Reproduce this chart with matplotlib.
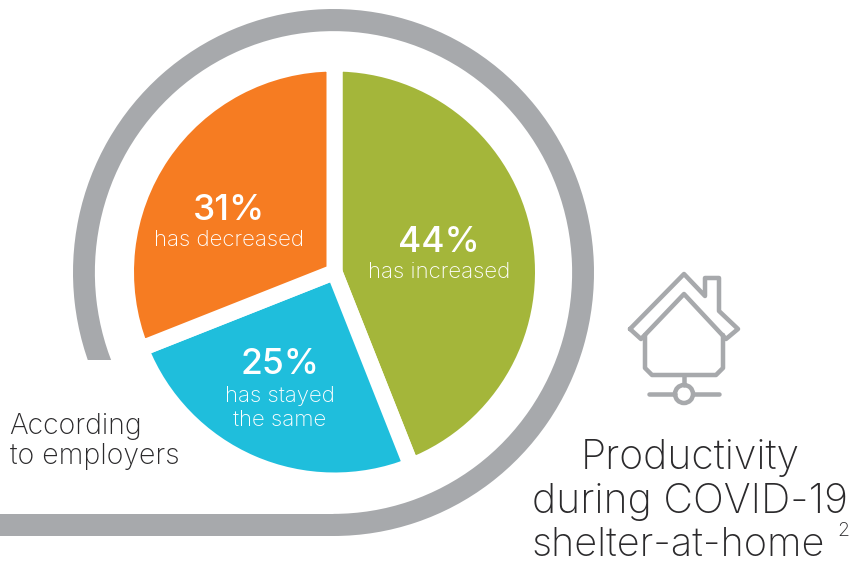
import matplotlib
matplotlib.use("Agg")
import matplotlib.pyplot as plt
from matplotlib.patches import Wedge, Rectangle, Polygon, Circle
from matplotlib.transforms import Affine2D

W, H = 850, 562
GRAY = "#A7A9AC"
DARK = "#2B2A2C"

labels = ["has increased", "has stayed\nthe same", "has decreased"]
values = [44, 25, 31]
colors = ["#A4B63A", "#1FBEDC", "#F67C22"]
label_pos = [(439, 243, [272]), (280, 364, [396, 420]), (229, 211, [240])]


def px(v):
    # pixel widths to points at 100 dpi
    return v * 0.72


def y_(y):
    return H - y


plt.rcParams["font.family"] = ["Inter", "DejaVu Sans"]

fig = plt.figure(figsize=(W / 100, H / 100), dpi=100)
ax = fig.add_axes([0, 0, 1, 1])

cx, cy = 334.5, 272

# outer band: open arc on the left, straight run along the bottom
band = Wedge((0, 0), 1, -90, 205, width=22 / 262, color=GRAY, lw=0)
ax.add_patch(band)
band.set_transform(Affine2D().scale(260.5, 263.5).translate(333.5, y_(272.5)) + ax.transData)
keep = Polygon([(0, y_(360)), (250, y_(360)), (250, 0), (W, 0), (W, H), (0, H)],
               transform=ax.transData, fill=False, lw=0)
band.set_clip_path(keep)
ax.add_patch(Rectangle((0, y_(536)), 334, 22, color=GRAY, lw=0))

# the white edges make the gaps between slices
ax.pie(values, colors=colors, startangle=90, counterclock=False, center=(cx, y_(cy)),
       radius=208.5, wedgeprops=dict(edgecolor="white", linewidth=px(16)))

ax.set_xlim(0, W)
ax.set_ylim(0, H)
ax.set_aspect("auto")
ax.axis("off")

for v, lab, (x, y1, ys) in zip(values, labels, label_pos):
    ax.text(x, y_(y1), f"{v}%", color="white", fontsize=25.5, fontweight="medium",
            ha="center", va="center")
    for line, y in zip(lab.split("\n"), ys):
        ax.text(x, y_(y), line, color="white", fontsize=16, fontweight="light",
                ha="center", va="center")

ax.text(9, y_(427), "According", color=DARK, fontsize=20.5, fontweight="light", ha="left", va="center")
ax.text(10, y_(457), "to employers", color=DARK, fontsize=20.5, fontweight="light", ha="left", va="center")

ax.text(690, y_(458), "Productivity", color=DARK, fontsize=29.5, fontweight="light", ha="center", va="center")
ax.text(690, y_(502), "during COVID-19", color=DARK, fontsize=29.5, fontweight="light", ha="center", va="center")
ax.text(678, y_(545), "shelter-at-home", color=DARK, fontsize=28.5, fontweight="light", ha="center", va="center")
ax.text(837, y_(531), "2", color=DARK, fontsize=14, fontweight="light", ha="left", va="center")

# house icon
icon = dict(color=GRAY, lw=px(4.5), solid_capstyle="round", solid_joinstyle="round")
roof = [(630, 329), (684, 274), (705, 296), (705, 278), (719, 278), (719, 311), (738, 329),
        (726, 339), (684, 294), (641, 339), (630, 329)]
ax.plot([p[0] for p in roof], [y_(p[1]) for p in roof], **icon)
body = [(645, 335), (645, 368), (652, 375), (716, 375), (723, 368), (723, 335)]
ax.plot([p[0] for p in body], [y_(p[1]) for p in body], **icon)
ax.plot([684, 684], [y_(376), y_(385)], **icon)
ax.plot([649, 675], [y_(394), y_(394)], **icon)
ax.plot([693, 719], [y_(394), y_(394)], **icon)
ax.add_patch(Circle((684, y_(394)), 9, fill=False, ec=GRAY, lw=px(4.5)))

fig.savefig("out.png", dpi=100)
